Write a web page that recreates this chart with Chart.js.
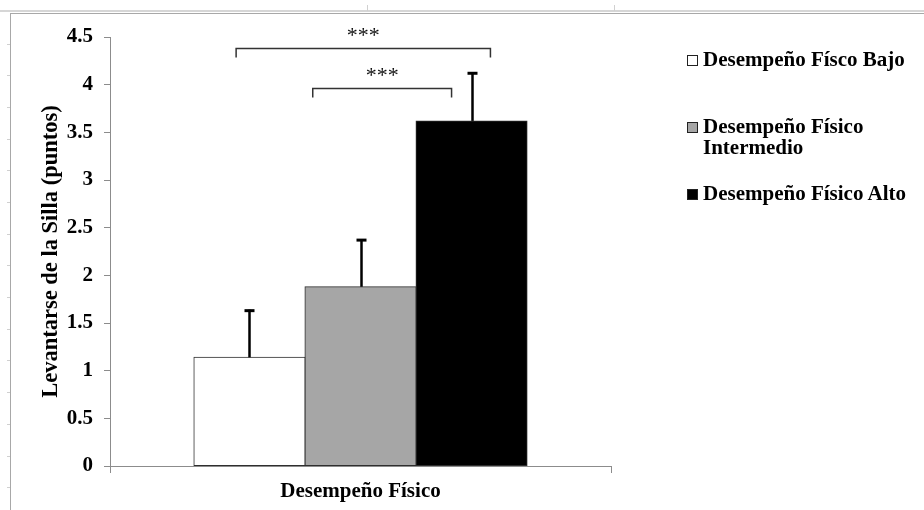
<!DOCTYPE html>
<html>
<head>
<meta charset="utf-8">
<script src="https://cdn.jsdelivr.net/npm/chart.js@4"></script>
<style>
  html, body { margin: 0; padding: 0; background: #fff; }
  #wrap { position: relative; width: 924px; height: 510px; }
  #legend { position: absolute; left: 687px; top: 0; width: 237px; height: 300px;
    font-family: "Liberation Serif", "Times New Roman", serif; font-weight: bold; font-size: 21px; color: #000; }
  .item { position: absolute; left: 0; display: flex; align-items: flex-start; line-height: 21px; }
  .box { width: 9px; height: 9px; border: 1px solid #222; margin-top: 6px; margin-right: 5px; flex: none; }
  .txt { width: 218px; }
</style>
</head>
<body>
<div id="wrap">
  <canvas id="chairChart" width="924" height="510"></canvas>
  <div id="legend"></div>
</div>
<script>
const categories = ["Desempeño Físico"];
const groups = ["Desempeño Físco Bajo", "Desempeño Físico Intermedio", "Desempeño Físico Alto"];
const means = [1.14, 1.88, 3.62];
const sds = [0.50, 0.50, 0.51];
const fills = ["#ffffff", "#a6a6a6", "#000000"];
const yTicks = [0, 0.5, 1, 1.5, 2, 2.5, 3, 3.5, 4, 4.5];
// significance brackets: bar index from/to and height in axis units
const brackets = [
  { from: 0, to: 2, level: 4.38, label: "***" },
  { from: 1, to: 2, level: 3.96, label: "***" },
];

document.addEventListener("DOMContentLoaded", function () {
  const serif = '"Liberation Serif", "Times New Roman", serif';
  const padLeft = 38;

  // page frame like the clipped document around the chart
  const framePlugin = {
    id: "frame",
    beforeDraw(chart) {
      const ctx = chart.ctx;
      ctx.save();
      ctx.fillStyle = "#fff";
      ctx.fillRect(0, 0, chart.width, chart.height);
      ctx.strokeStyle = "#d6d6d6";
      ctx.lineWidth = 2;
      ctx.beginPath();
      ctx.moveTo(0, 11);
      ctx.lineTo(chart.width, 11);
      ctx.stroke();
      ctx.strokeStyle = "#a8a8a8";
      ctx.lineWidth = 1;
      ctx.beginPath();
      ctx.moveTo(10, 13.5);
      ctx.lineTo(chart.width, 13.5);
      ctx.moveTo(10.5, 13.5);
      ctx.lineTo(10.5, chart.height);
      ctx.stroke();
      ctx.strokeStyle = "#d0d0d0";
      ctx.beginPath();
      [367.5, 614.5].forEach(function (x) {
        ctx.moveTo(x, 5);
        ctx.lineTo(x, 11);
      });
      for (let y = 43.5; y < chart.height; y += 31.7) {
        ctx.moveTo(7, Math.round(y) + 0.5);
        ctx.lineTo(10, Math.round(y) + 0.5);
      }
      ctx.stroke();
      ctx.restore();
    },
  };

  const errorBarPlugin = {
    id: "errorBars",
    afterDatasetsDraw(chart) {
      const ctx = chart.ctx;
      const y = chart.scales.y;
      ctx.save();
      ctx.strokeStyle = "#000";
      chart.data.datasets.forEach(function (ds, i) {
        const bar = chart.getDatasetMeta(i).data[0];
        const top = y.getPixelForValue(means[i] + sds[i]);
        const x = Math.round(bar.x) + 0.5;
        ctx.lineWidth = 2.5;
        ctx.beginPath();
        ctx.moveTo(x, bar.y);
        ctx.lineTo(x, top);
        ctx.stroke();
        ctx.lineWidth = 3;
        ctx.beginPath();
        ctx.moveTo(x - 5, top + 1);
        ctx.lineTo(x + 5, top + 1);
        ctx.stroke();
      });
      ctx.restore();
    },
  };

  const bracketPlugin = {
    id: "brackets",
    afterDraw(chart) {
      const ctx = chart.ctx;
      const y = chart.scales.y;
      const offs = [[-0.12, 0.17], [-0.43, -0.18]];
      ctx.save();
      ctx.strokeStyle = "#333";
      ctx.lineWidth = 1.5;
      ctx.fillStyle = "#111";
      ctx.font = "22px " + serif;
      ctx.textAlign = "center";
      ctx.textBaseline = "middle";
      brackets.forEach(function (b, k) {
        const b1 = chart.getDatasetMeta(b.from).data[0];
        const b2 = chart.getDatasetMeta(b.to).data[0];
        const x1 = b1.x + offs[k][0] * b1.width;
        const x2 = b2.x + offs[k][1] * b2.width;
        const py = Math.round(y.getPixelForValue(b.level)) + 0.5;
        ctx.beginPath();
        ctx.moveTo(x1, py + 9);
        ctx.lineTo(x1, py);
        ctx.lineTo(x2, py);
        ctx.lineTo(x2, py + 9);
        ctx.stroke();
        ctx.fillText(b.label, (x1 + x2) / 2, py - 12);
      });
      ctx.restore();
    },
  };

  const ctx = document.getElementById("chairChart").getContext("2d");
  new Chart(ctx, {
    type: "bar",
    data: {
      labels: categories,
      datasets: groups.map(function (g, i) {
        return {
          label: g,
          data: [means[i]],
          backgroundColor: fills[i],
          borderColor: "#2e2e2e",
          borderWidth: 1,
          borderSkipped: false,
          inflateAmount: 0.5,
          barPercentage: 1,
          categoryPercentage: 0.665,
        };
      }),
    },
    options: {
      responsive: false,
      animation: false,
      layout: { padding: { left: padLeft, right: 313, top: 37, bottom: 0 } },
      plugins: { legend: { display: false }, tooltip: { enabled: false } },
      scales: {
        x: {
          grid: { drawOnChartArea: false, tickLength: 7, color: "#8c8c8c" },
          border: { color: "#8c8c8c" },
          ticks: { color: "#000", padding: 8, font: { family: serif, size: 21, weight: "bold", lineHeight: 1 } },
        },
        y: {
          min: 0,
          max: 4.5,
          afterBuildTicks(axis) {
            axis.ticks = yTicks.map(function (v) { return { value: v }; });
          },
          afterFit(axis) {
            axis.width = 110 - padLeft;
          },
          grid: { drawOnChartArea: false, tickLength: 6, color: "#8c8c8c" },
          border: { color: "#8c8c8c" },
          ticks: {
            color: "#000",
            padding: 11,
            font: { family: serif, size: 21, weight: "bold" },
            callback: function (v) { return String(v); },
          },
          title: {
            display: true,
            text: "Levantarse de la Silla (puntos)",
            color: "#000",
            padding: { top: 2, bottom: 0 },
            font: { family: serif, size: 22.5, weight: "bold", lineHeight: 1 },
          },
        },
      },
    },
    plugins: [framePlugin, errorBarPlugin, bracketPlugin],
  });

  const legend = document.getElementById("legend");
  groups.forEach(function (g, i) {
    const item = document.createElement("div");
    item.className = "item";
    item.style.top = 49 + i * 67 + "px";
    item.innerHTML = '<span class="box" style="background:' + fills[i] + '"></span><span class="txt">' + g + "</span>";
    legend.appendChild(item);
  });
});
</script>
</body>
</html>
